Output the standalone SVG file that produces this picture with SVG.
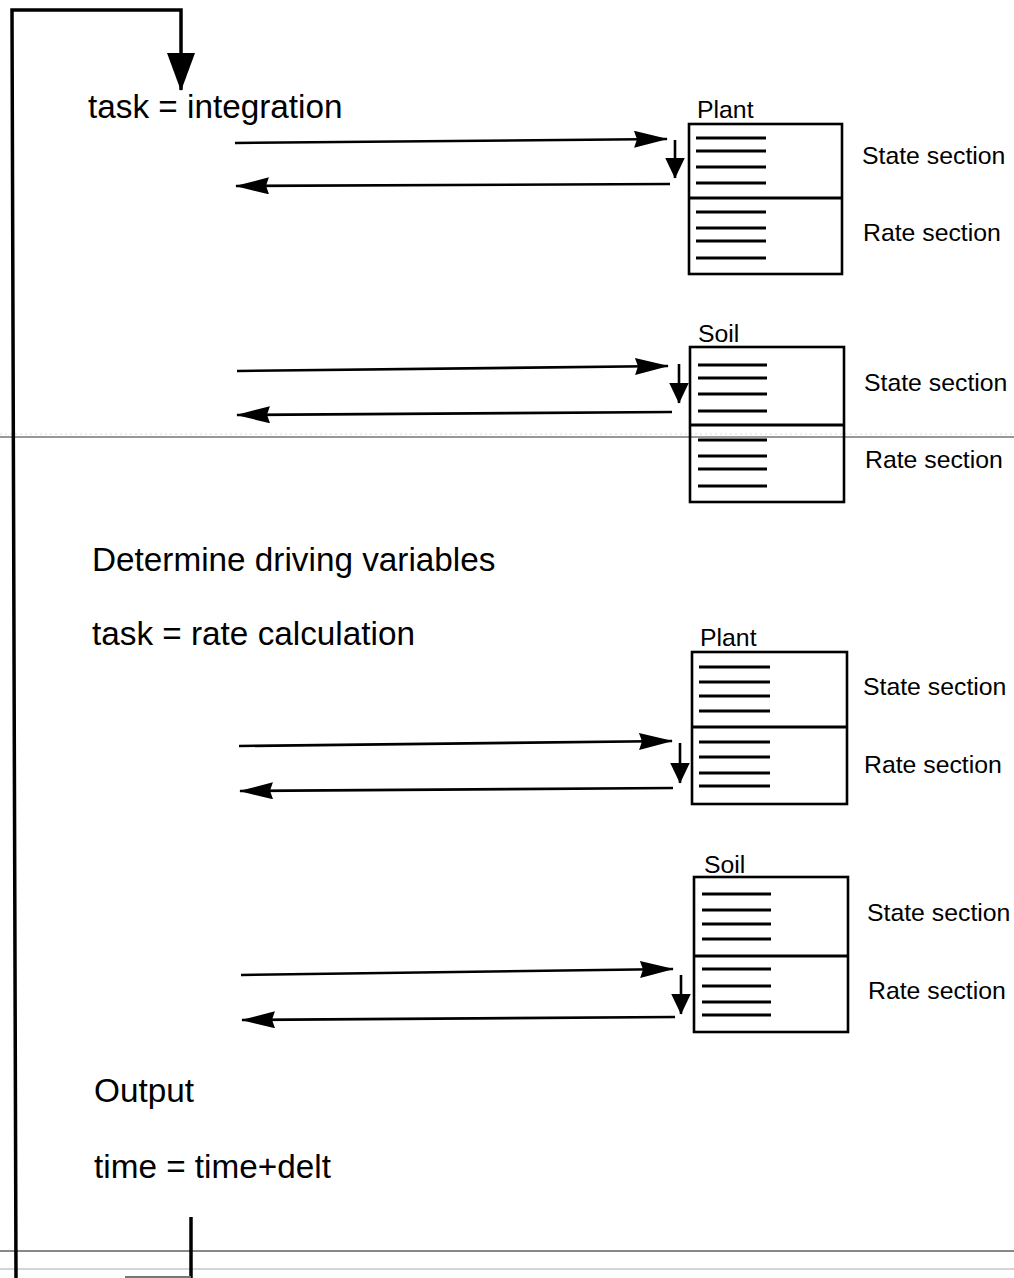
<svg xmlns="http://www.w3.org/2000/svg" width="1014" height="1278" viewBox="0 0 1014 1278">
<style>
.big{font-family:"Liberation Sans",Arial,sans-serif;font-size:33.3px;fill:#000}
.sm{font-family:"Liberation Sans",Arial,sans-serif;font-size:24.8px;fill:#000}
.box{fill:none;stroke:#000;stroke-width:2.6}
.ln{stroke:#000;stroke-width:3}
.arr{stroke:#000;stroke-width:2.6;fill:none}
.loop{stroke:#000;stroke-width:3.5;fill:none}
</style>
<defs>
<marker id="ah" viewBox="0 0 34 17" markerWidth="34" markerHeight="17" refX="33" refY="8.5" orient="auto" markerUnits="userSpaceOnUse">
<path d="M0,0 L34,8.5 L0,17 L3,8.5 z" fill="#000"/>
</marker>
<marker id="dh" viewBox="0 0 21 20" markerWidth="21" markerHeight="20" refX="20.5" refY="10" orient="auto" markerUnits="userSpaceOnUse">
<path d="M0,0 L21,10 L0,20 z" fill="#000"/>
</marker>
<marker id="bh" viewBox="0 0 38 28" markerWidth="38" markerHeight="28" refX="37" refY="14" orient="auto" markerUnits="userSpaceOnUse">
<path d="M0,0 L38,14 L0,28 z" fill="#000"/>
</marker>
</defs>

<!-- scan artefact lines -->
<g id="scan-lines">
<line x1="0" y1="434" x2="1014" y2="434" stroke="#ddd" stroke-width="1" stroke-dasharray="2,3"/>
<line x1="0" y1="437" x2="1014" y2="437" stroke="#333" stroke-width="1"/>
<line x1="0" y1="1251" x2="1014" y2="1251" stroke="#888" stroke-width="2"/>
<line x1="0" y1="1269" x2="1014" y2="1269" stroke="#aaa" stroke-width="1"/>
</g>

<g id="connectors">
<path class="loop" d="M16,1278 L12,10 L181,10 L181,90" marker-end="url(#bh)"/>
<line x1="191" y1="1217" x2="191" y2="1278" class="loop" stroke-width="3"/>
<line x1="125" y1="1277" x2="191" y2="1277" stroke="#777" stroke-width="2"/>

<!-- plant 1 -->
<line class="arr" x1="235" y1="143" x2="667" y2="139" marker-end="url(#ah)"/>
<line class="arr" x1="670" y1="184" x2="236" y2="186" marker-end="url(#ah)"/>
<line class="arr" x1="675" y1="140" x2="675" y2="178" marker-end="url(#dh)"/>
<!-- soil 1 -->
<line class="arr" x1="237" y1="371" x2="668" y2="366" marker-end="url(#ah)"/>
<line class="arr" x1="672" y1="412" x2="237" y2="415" marker-end="url(#ah)"/>
<line class="arr" x1="679" y1="364" x2="679" y2="403" marker-end="url(#dh)"/>
<!-- plant 2 -->
<line class="arr" x1="239" y1="746" x2="672" y2="741" marker-end="url(#ah)"/>
<line class="arr" x1="673" y1="788" x2="240" y2="791" marker-end="url(#ah)"/>
<line class="arr" x1="680" y1="743" x2="680" y2="783" marker-end="url(#dh)"/>
<!-- soil 2 -->
<line class="arr" x1="241" y1="975" x2="673" y2="969" marker-end="url(#ah)"/>
<line class="arr" x1="675" y1="1017" x2="242" y2="1020" marker-end="url(#ah)"/>
<line class="arr" x1="681" y1="975" x2="681" y2="1014" marker-end="url(#dh)"/>
</g>

<g id="step-integration"><text class="big" x="88" y="118">task = integration</text></g>
<g id="step-driving"><text class="big" x="92" y="571">Determine driving variables</text></g>
<g id="step-rate"><text class="big" x="92" y="645">task = rate calculation</text></g>
<g id="step-output"><text class="big" x="94" y="1102">Output</text></g>
<g id="step-time"><text class="big" x="94" y="1178">time = time+delt</text></g>

<g id="plant1">
<text class="sm" x="697" y="118">Plant</text>
<rect class="box" x="689" y="124" width="153" height="150"/>
<line class="ln" x1="689" y1="198" x2="842" y2="198" stroke-width="2.6"/>
<line class="ln" x1="696" y1="138" x2="766" y2="138"/>
<line class="ln" x1="696" y1="151" x2="766" y2="151"/>
<line class="ln" x1="696" y1="167" x2="766" y2="167"/>
<line class="ln" x1="696" y1="183" x2="766" y2="183"/>
<line class="ln" x1="696" y1="212" x2="766" y2="212"/>
<line class="ln" x1="696" y1="228" x2="766" y2="228"/>
<line class="ln" x1="696" y1="241" x2="766" y2="241"/>
<line class="ln" x1="696" y1="258" x2="766" y2="258"/>
<text class="sm" x="862" y="164">State section</text>
<text class="sm" x="863" y="241">Rate section</text>
</g>

<g id="soil1">
<text class="sm" x="698" y="342">Soil</text>
<rect class="box" x="690" y="347" width="154" height="155"/>
<line class="ln" x1="690" y1="425" x2="844" y2="425" stroke-width="2.6"/>
<line class="ln" x1="698" y1="365" x2="767" y2="365"/>
<line class="ln" x1="698" y1="378" x2="767" y2="378"/>
<line class="ln" x1="698" y1="394" x2="767" y2="394"/>
<line class="ln" x1="698" y1="411" x2="767" y2="411"/>
<line class="ln" x1="698" y1="440" x2="767" y2="440"/>
<line class="ln" x1="698" y1="456" x2="767" y2="456"/>
<line class="ln" x1="698" y1="469" x2="767" y2="469"/>
<line class="ln" x1="698" y1="486" x2="767" y2="486"/>
<text class="sm" x="864" y="391">State section</text>
<text class="sm" x="865" y="468">Rate section</text>
</g>

<g id="plant2">
<text class="sm" x="700" y="646">Plant</text>
<rect class="box" x="692" y="652" width="155" height="152"/>
<line class="ln" x1="692" y1="727" x2="847" y2="727" stroke-width="2.6"/>
<line class="ln" x1="699" y1="667" x2="770" y2="667"/>
<line class="ln" x1="699" y1="682" x2="770" y2="682"/>
<line class="ln" x1="699" y1="696" x2="770" y2="696"/>
<line class="ln" x1="699" y1="711" x2="770" y2="711"/>
<line class="ln" x1="699" y1="742" x2="770" y2="742"/>
<line class="ln" x1="699" y1="757" x2="770" y2="757"/>
<line class="ln" x1="699" y1="773" x2="770" y2="773"/>
<line class="ln" x1="699" y1="786" x2="770" y2="786"/>
<text class="sm" x="863" y="695">State section</text>
<text class="sm" x="864" y="773">Rate section</text>
</g>

<g id="soil2">
<text class="sm" x="704" y="873">Soil</text>
<rect class="box" x="694" y="877" width="154" height="155"/>
<line class="ln" x1="694" y1="956" x2="848" y2="956" stroke-width="2.6"/>
<line class="ln" x1="702" y1="894" x2="771" y2="894"/>
<line class="ln" x1="702" y1="910" x2="771" y2="910"/>
<line class="ln" x1="702" y1="924" x2="771" y2="924"/>
<line class="ln" x1="702" y1="939" x2="771" y2="939"/>
<line class="ln" x1="702" y1="969" x2="771" y2="969"/>
<line class="ln" x1="702" y1="986" x2="771" y2="986"/>
<line class="ln" x1="702" y1="1002" x2="771" y2="1002"/>
<line class="ln" x1="702" y1="1015" x2="771" y2="1015"/>
<text class="sm" x="867" y="921">State section</text>
<text class="sm" x="868" y="999">Rate section</text>
</g>
</svg>
